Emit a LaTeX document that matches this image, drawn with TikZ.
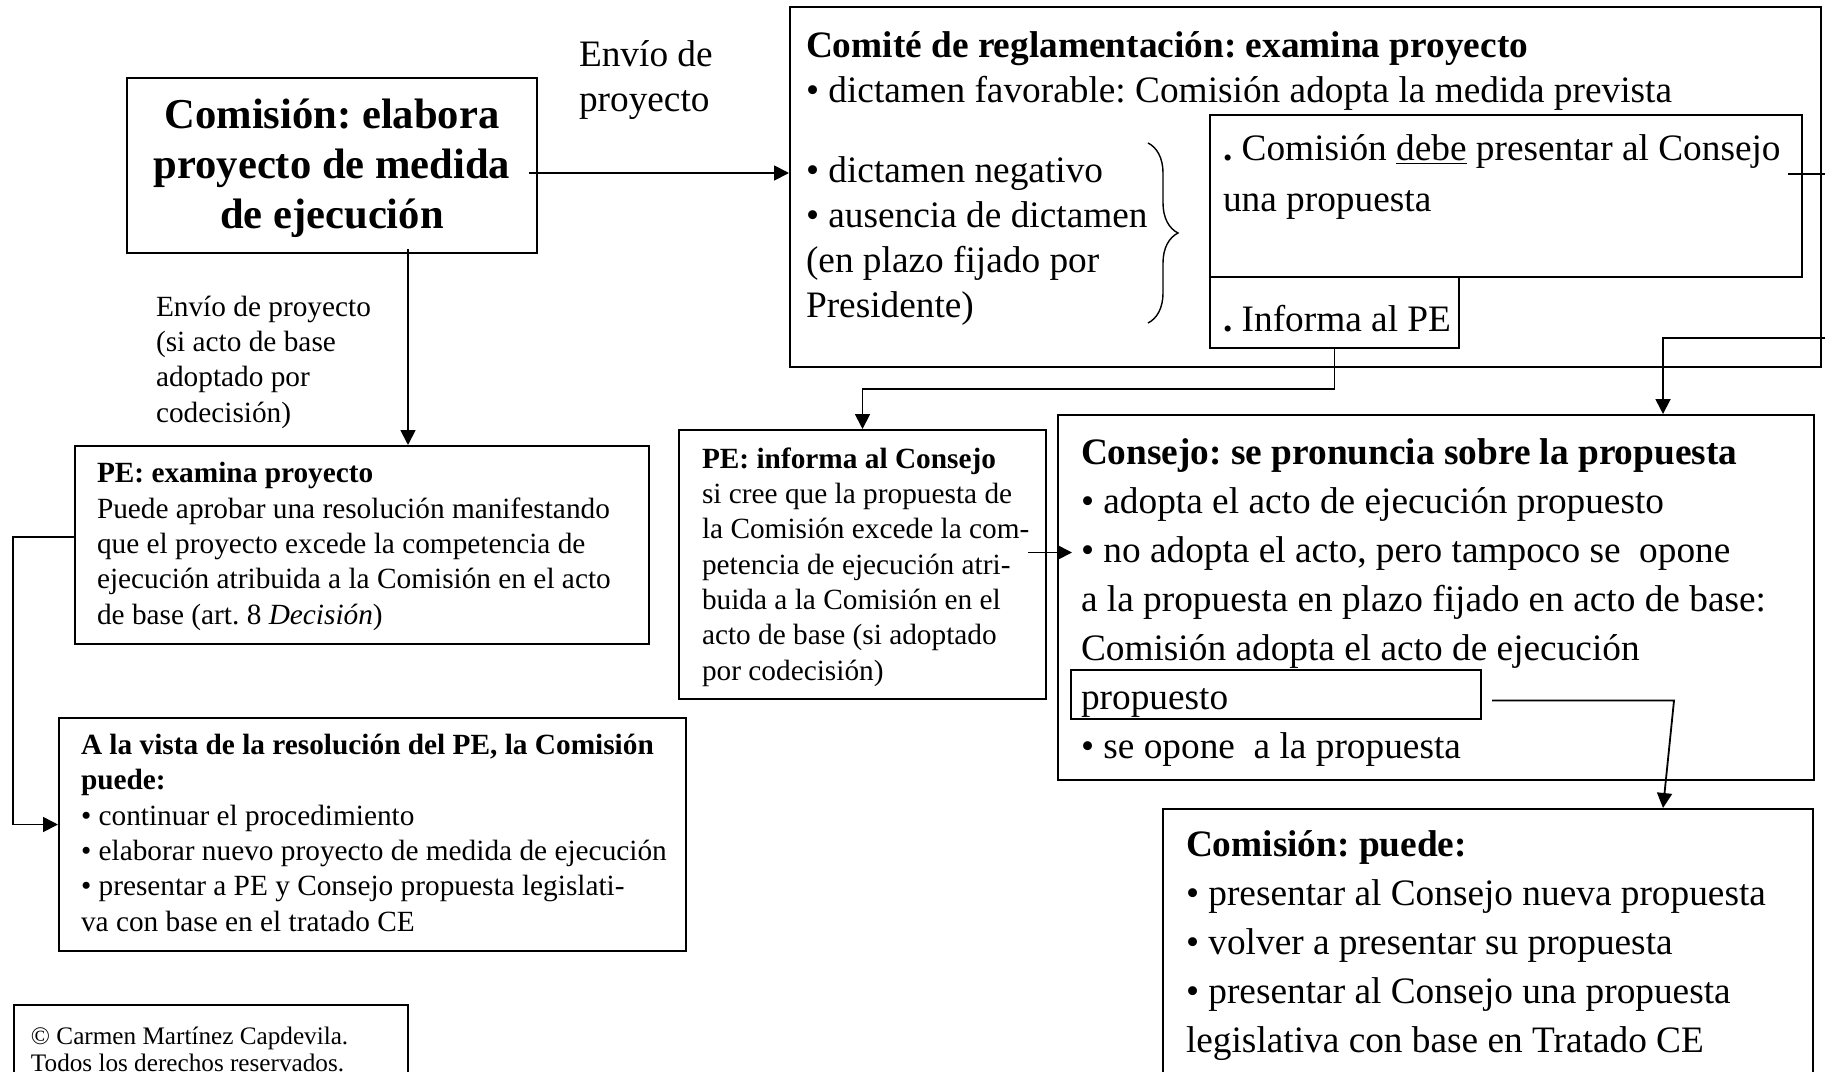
\documentclass[tikz,border=0pt]{standalone}
\usepackage{fontspec}
\setmainfont{Liberation Serif}
\usetikzlibrary{arrows.meta,calc,fit,decorations.pathreplacing}
\frenchspacing

\tikzset{every picture/.style={line width=1pt}}
\tikzset{
  box/.style={draw, rectangle, inner sep=0pt},
  txt/.style={anchor=base west, inner sep=0pt, align=left},
  fbig/.style={font=\fontsize{21.3}{25}\selectfont\bfseries},
  fmed/.style={font=\fontsize{18.66}{22.5}\selectfont},
  fsmall/.style={font=\fontsize{14.66}{17.65}\selectfont},
  link/.style={-{Triangle[length=7.5pt,width=7.5pt]}, line width=0.9pt},
}

\begin{document}
\begin{tikzpicture}[x=0.5pt,y=0.5pt,yscale=-1,xscale=1]
\useasboundingbox (0,0) rectangle (1825,1071);

%Boxes
\node[box, fit={(127,78) (537,253)}] (elab) {};
\node[box, fit={(790,7) (1821,367)}] (comite) {};
\node[box, fit={(1210,115) (1802,277)}] (debe) {};
\node[box, fit={(1210,277) (1459,348)}] (infpe) {};
\node[box, fit={(75,446) (649,644)}] (peexam) {};
\node[box, fit={(59,718) (686,951)}] (vista) {};
\node[box, fit={(679,430) (1046,699)}] (pei) {};
\node[box, fit={(1058,415) (1814,780)}] (consejo) {};
\node[box, fit={(1071,670) (1481,719)}] (propbox) {};
\node[box, fit={(1163,809) (1813,1090)}] (puede) {};
\node[box, fit={(14,1005) (408,1090)}] (copy) {};

%Brace
\draw[line width=0.7pt, decorate, decoration={brace, amplitude=15pt}] (1148,143) -- (1148,323);

% Text Node (anchored at the baseline of the last line)
\node[fbig, anchor=base, inner sep=0pt, align=center] (elabtxt) at (332,228) {Comisión: elabora\\proyecto de medida\\de ejecución};
% Text Node
\node[txt, fmed] (envio1) at (578,111) {Envío de\\proyecto};
% Text Node
\node[txt, fmed] (comitetxt) at (805,102) {\textbf{Comité de reglamentación: examina proyecto}\\• dictamen favorable: Comisión adopta la medida prevista};
% Text Node
\node[txt, fmed] (negtxt) at (805,317) {• dictamen negativo\\• ausencia de dictamen\\(en plazo fijado por\\Presidente)};
% Text Node
\node[txt, fmed, font=\fontsize{18.66}{25.5}\selectfont] (debetxt) at (1222,211) {{\bfseries .} Comisión \underline{debe} presentar al Consejo\\una propuesta};
% Text Node
\node[txt, fmed] (infpetxt) at (1222,331) {{\bfseries .} Informa al PE};
% Text Node
\node[txt, fsmall] (envio2) at (155,422) {Envío de proyecto\\(si acto de base\\adoptado por\\codecisión)};
% Text Node
\node[txt, fsmall] (peexamtxt) at (96,624) {\textbf{PE: examina proyecto}\\Puede aprobar una resolución manifestando\\que el proyecto excede la competencia de\\ejecución atribuida a la Comisión en el acto\\de base (art. 8 \textit{Decisión})};
% Text Node
\node[txt, fsmall] (vistatxt) at (80,931) {\textbf{A la vista de la resolución del PE, la Comisión}\\\textbf{puede:}\\• continuar el procedimiento\\• elaborar nuevo proyecto de medida de ejecución\\• presentar a PE y Consejo propuesta legislati-\\va con base en el tratado CE};
% Text Node
\node[txt, fsmall] (peitxt) at (701,680) {\textbf{PE: informa al Consejo}\\si cree que la propuesta de\\la Comisión excede la com-\\petencia de ejecución atri-\\buida a la Comisión en el\\acto de base (si adoptado\\por codecisión)};
% Text Node
\node[txt, fmed, font=\fontsize{18.66}{24.5}\selectfont] (consejotxt) at (1080,758) {\textbf{Consejo: se pronuncia sobre la propuesta}\\• adopta el acto de ejecución propuesto\\• no adopta el acto, pero tampoco se\ \ opone\\a la propuesta en plazo fijado en acto de base:\\Comisión adopta el acto de ejecución\\propuesto\\• se opone\ \ a la propuesta};
% Text Node
\node[txt, fmed, font=\fontsize{18.66}{24.5}\selectfont] (puedetxt) at (1185,1052) {\textbf{Comisión: puede:}\\• presentar al Consejo nueva propuesta\\• volver a presentar su propuesta\\• presentar al Consejo una propuesta\\legislativa con base en Tratado CE};
% Text Node
\node[txt, font=\fontsize{12.6}{13.5}\selectfont] (copytxt) at (30,1071) {© Carmen Martínez Capdevila.\\Todos los derechos reservados.};

%Connectors
\draw[link] ($(elab.east)+(-9,7.5)$) coordinate (a1) -- (a1 -| comite.west);
\draw[link] ($(elab.south)+(76,-5)$) coordinate (a2) -- (a2 |- peexam.north);
\draw[link] ($(peexam.west)+(0,-8)$) -- ++(-61,0) |- ($(vista.west)+(0,-10)$);
\draw[link] (infpe.south) -- ++(0,40) -| (pei.north);
\draw[link] ($(debe.east)+(-15,-22)$) -- ++(45,0) -- ++(0,164) -| ($(consejo.north)+(227,0)$);
\draw[link] ($(pei.east)+(-19,-12)$) -- ($(consejo.west)+(15,-45)$);
\draw[link] ($(propbox.east)+(10,6)$) -- ++(182,0) -- ($(puede.north)+(175,0)$);

\end{tikzpicture}
\end{document}
